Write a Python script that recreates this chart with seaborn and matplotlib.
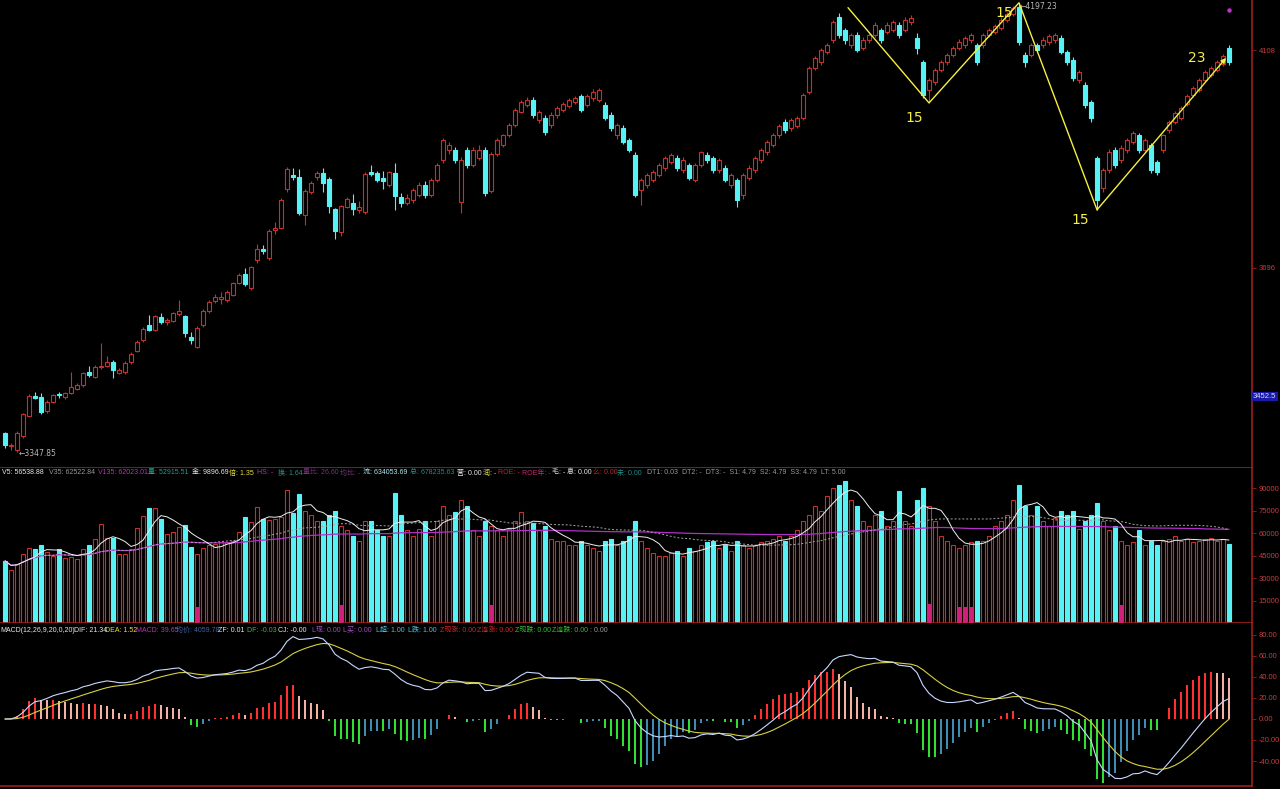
import numpy as np
import pandas as pd
import matplotlib
matplotlib.use("Agg")
import matplotlib.pyplot as plt
import seaborn as sns

# daily candles (index, price)
OPEN = [
    3384, 3360, 3352, 3378, 3416, 3454, 3452, 3425, 3443, 3458,
    3452, 3460, 3468, 3474, 3500, 3490, 3509, 3510, 3518, 3498,
    3499, 3518, 3540, 3560, 3588, 3579, 3604, 3593, 3596, 3609,
    3605, 3566, 3547, 3588, 3614, 3633, 3638, 3636, 3645, 3668,
    3685, 3658, 3712, 3732, 3715, 3768, 3772, 3846, 3872, 3868,
    3796, 3840, 3868, 3876, 3865, 3808, 3764, 3812, 3818, 3805,
    3802, 3878, 3876, 3866, 3853, 3876, 3830, 3818, 3824, 3834,
    3853, 3834, 3862, 3900, 3919, 3919, 3820, 3919, 3890, 3904,
    3919, 3842, 3912, 3928, 3947, 3966, 3991, 4004, 4014, 3976,
    3980, 3966, 3985, 3995, 4002, 4010, 4021, 4004, 4017, 4014,
    4004, 3985, 3947, 3961, 3938, 3910, 3843, 3853, 3862, 3872,
    3885, 3896, 3904, 3881, 3890, 3862, 3890, 3910, 3904, 3881,
    3885, 3853, 3862, 3834, 3866, 3881, 3900, 3915, 3928, 3947,
    3972, 3960, 3964, 3979, 4029, 4074, 4085, 4104, 4127, 4170,
    4146, 4117, 4136, 4112, 4127, 4136, 4146, 4142, 4146, 4155,
    4146, 4161, 4131, 4085, 4032, 4047, 4070, 4085, 4098, 4112,
    4117, 4127, 4117, 4117, 4136, 4142, 4150, 4165, 4176, 4189,
    4098, 4098, 4117, 4117, 4123, 4127, 4131, 4104, 4089, 4051,
    4042, 4010, 3904, 3847, 3881, 3919, 3900, 3919, 3934, 3947,
    3919, 3928, 3896, 3919, 3957, 3972, 3979, 4006, 4023, 4032,
    4051, 4061, 4070, 4081, 4112,
]
CLOSE = [
    3361, 3362, 3385, 3420, 3454, 3450, 3424, 3443, 3456, 3456,
    3460, 3471, 3474, 3498, 3494, 3509, 3511, 3518, 3503, 3503,
    3517, 3534, 3557, 3581, 3579, 3605, 3593, 3598, 3610, 3615,
    3574, 3560, 3583, 3615, 3632, 3642, 3641, 3650, 3667, 3683,
    3666, 3698, 3731, 3728, 3766, 3772, 3825, 3883, 3868, 3800,
    3842, 3857, 3876, 3857, 3813, 3766, 3813, 3827, 3808, 3812,
    3874, 3874, 3862, 3861, 3877, 3832, 3819, 3829, 3843, 3853,
    3834, 3862, 3890, 3938, 3928, 3900, 3900, 3890, 3919, 3919,
    3838, 3912, 3938, 3947, 3966, 3995, 4010, 4014, 3985, 3991,
    3953, 3985, 3998, 4006, 4014, 4017, 3995, 4021, 4029, 4032,
    3979, 3961, 3966, 3934, 3919, 3834, 3862, 3872, 3877, 3890,
    3904, 3910, 3885, 3900, 3866, 3890, 3915, 3900, 3881, 3900,
    3862, 3872, 3824, 3872, 3885, 3904, 3919, 3934, 3947, 3964,
    3957, 3976, 3979, 4023, 4074, 4093, 4108, 4117, 4161, 4136,
    4127, 4136, 4108, 4127, 4136, 4155, 4127, 4155, 4161, 4136,
    4165, 4168, 4112, 4023, 4051, 4070, 4085, 4098, 4112, 4123,
    4131, 4136, 4085, 4136, 4146, 4153, 4165, 4176, 4187, 4123,
    4085, 4117, 4108, 4127, 4134, 4136, 4104, 4085, 4055, 4066,
    4004, 3979, 3824, 3881, 3915, 3890, 3923, 3938, 3951, 3919,
    3938, 3881, 3877, 3947, 3972, 3989, 3998, 4021, 4036, 4051,
    4066, 4074, 4085, 4097, 4085,
]
HIGH = [
    3386, 3366, 3388, 3422, 3458, 3462, 3460, 3447, 3458, 3462,
    3462, 3500, 3478, 3500, 3510, 3512, 3554, 3530, 3522, 3507,
    3520, 3537, 3560, 3584, 3608, 3607, 3610, 3602, 3613, 3636,
    3608, 3575, 3586, 3618, 3636, 3646, 3650, 3654, 3670, 3686,
    3696, 3700, 3741, 3740, 3770, 3782, 3828, 3886, 3885, 3883,
    3845, 3860, 3880, 3885, 3868, 3810, 3816, 3830, 3835, 3822,
    3877, 3890, 3880, 3880, 3880, 3894, 3838, 3835, 3848, 3858,
    3860, 3866, 3894, 3942, 3935, 3925, 3905, 3925, 3925, 3928,
    3925, 3915, 3942, 3950, 3970, 3998, 4014, 4020, 4020, 3995,
    3985, 3990, 4002, 4010, 4018, 4022, 4025, 4025, 4034, 4036,
    4010, 3990, 3970, 3966, 3942, 3915, 3866, 3876, 3882, 3894,
    3908, 3914, 3910, 3905, 3895, 3894, 3918, 3916, 3908, 3904,
    3890, 3876, 3866, 3876, 3890, 3908, 3922, 3938, 3952, 3968,
    3978, 3980, 3984, 4026, 4078, 4097, 4112, 4122, 4165, 4178,
    4150, 4140, 4142, 4132, 4140, 4160, 4150, 4160, 4165, 4160,
    4170, 4174, 4140, 4090, 4055, 4074, 4090, 4102, 4116, 4128,
    4135, 4140, 4122, 4140, 4150, 4158, 4170, 4180, 4192, 4197.23,
    4105, 4122, 4122, 4132, 4138, 4140, 4136, 4108, 4094, 4070,
    4047, 4014, 3908, 3885, 3920, 3924, 3928, 3942, 3955, 3952,
    3942, 3932, 3900, 3950, 3976, 3993, 4002, 4025, 4040, 4055,
    4070, 4078, 4089, 4101, 4118,
]
LOW = [
    3355, 3352, 3347.85, 3375, 3414, 3448, 3420, 3422, 3440, 3450,
    3448, 3458, 3466, 3472, 3490, 3488, 3506, 3508, 3488, 3495,
    3496, 3515, 3538, 3556, 3576, 3576, 3590, 3588, 3593, 3606,
    3565, 3553, 3545, 3585, 3610, 3630, 3628, 3632, 3643, 3665,
    3662, 3655, 3705, 3722, 3712, 3760, 3770, 3840, 3862, 3797,
    3778, 3835, 3862, 3840, 3800, 3750, 3757, 3810, 3796, 3800,
    3798, 3870, 3858, 3845, 3850, 3806, 3812, 3815, 3818, 3830,
    3828, 3830, 3858, 3895, 3912, 3895, 3800, 3885, 3886, 3900,
    3832, 3838, 3908, 3924, 3944, 3962, 3988, 4000, 3980, 3970,
    3948, 3960, 3980, 3990, 3998, 4005, 3990, 4000, 4012, 4010,
    3975, 3955, 3940, 3930, 3915, 3830, 3815, 3848, 3858, 3868,
    3880, 3892, 3880, 3876, 3862, 3858, 3886, 3895, 3876, 3876,
    3858, 3848, 3812, 3826, 3862, 3876, 3895, 3910, 3924, 3942,
    3952, 3955, 3960, 3975, 4025, 4070, 4080, 4100, 4122, 4130,
    4120, 4112, 4104, 4108, 4122, 4132, 4122, 4138, 4142, 4130,
    4142, 4155, 4100, 4018, 4008, 4042, 4066, 4080, 4094, 4108,
    4112, 4122, 4080, 4112, 4132, 4138, 4146, 4160, 4172, 4118,
    4075, 4094, 4104, 4112, 4118, 4122, 4100, 4080, 4050, 4045,
    3998, 3972, 3806, 3840, 3876, 3885, 3895, 3914, 3930, 3914,
    3914, 3876, 3872, 3914, 3952, 3968, 3975, 4002, 4019, 4028,
    4047, 4057, 4066, 4077, 4080,
]
VOLUME = [
    41500, 35500, 39500, 46000, 50000, 49500, 52000, 47500, 45000, 49500,
    43500, 44000, 43000, 49500, 52000, 56000, 66000, 57000, 57000, 46000,
    46000, 49500, 63500, 71500, 77000, 77000, 69500, 59500, 61000, 64000,
    65500, 51000, 46000, 50000, 52000, 53000, 54000, 54000, 55000, 61000,
    71000, 67500, 77500, 69500, 69000, 69500, 70500, 88500, 73500, 86000,
    75000, 72000, 68000, 68000, 72000, 75000, 65000, 62000, 58000, 55000,
    68000, 68000, 62000, 58000, 58000, 87000, 72000, 62000, 58000, 63000,
    68000, 58000, 68000, 78000, 72000, 74000, 82000, 78000, 62000, 58000,
    68000, 65000, 62000, 58000, 63000, 68000, 74000, 68000, 67000, 62000,
    65000, 56000, 55000, 55000, 52000, 52000, 55000, 52000, 50000, 48000,
    55000, 56000, 52000, 55000, 58000, 68000, 55000, 50000, 47000, 45000,
    45000, 47000, 48000, 45000, 50000, 48000, 52000, 54000, 55000, 50000,
    52000, 48000, 55000, 52000, 50000, 52000, 54000, 55000, 56000, 58000,
    55000, 58000, 62000, 68000, 72000, 78000, 75000, 85000, 90000, 92000,
    95000, 82000, 78000, 68000, 65000, 72000, 75000, 65000, 68000, 88000,
    68000, 65000, 82000, 90000, 78000, 68000, 58000, 55000, 52000, 50000,
    52000, 54000, 55000, 55000, 58000, 65000, 68000, 72000, 82000, 92000,
    78000, 72000, 78000, 68000, 65000, 70000, 75000, 72000, 75000, 63000,
    68000, 72000, 80000, 68000, 62000, 65000, 55000, 52000, 54000, 62000,
    52000, 55000, 52000, 55000, 56000, 58000, 55000, 56000, 54000, 55000,
    56000, 57000, 55000, 56000, 53000,
]

# short magenta signal bars in the volume pane
FLAG_BARS = [32, 56, 81, 154, 159, 160, 161, 186]
FLAG_VOL = [11000, 12000, 12000, 13000, 11000, 11000, 11000, 12000]

# hand drawn wave line and its bar counts
ZIGZAG_BAR = [140.5, 154, 169, 182, 203.5]
ZIGZAG_PRICE = [4188, 4008, 4197.23, 3806, 4093]
ZIGZAG_TEXT = ["15", "15", "15", "23"]

PRICE_TICKS = [3696, 4108]
CURSOR_PRICE = 3452.5
SIGNAL_PRICE = 4184
VOL_TICKS = [15000, 30000, 45000, 60000, 75000, 90000]
MACD_TICKS = [-40, -20, 0, 20, 40, 60, 80]

VOL_HEADER = [
    (2, "V5: 56538.88", "#e8e8e8"), (49, "V35: 62522.84", "#9a9a9a"),
    (98, "V135: 62023.01", "#c030c0"), (148, "量: 52915.51", "#2a9a8a"),
    (192, "金: 9896.69", "#e8e8e8"), (229, "倍: 1.35", "#e8e040"), (257, "HS: -", "#c030c0"),
    (278, "换: 1.64", "#2a8a8a"), (303, "量比: 26.60", "#7a307a"), (340, "均比: -", "#7a307a"),
    (363, "流: 634053.69", "#b0e8f0"), (410, "总: 678235.63", "#2a8a8a"),
    (457, "营: 0.00", "#e8e8e8"), (483, "润: -", "#e8e040"), (498, "ROE: -", "#c02828"),
    (522, "ROE年: -", "#c02870"), (552, "毛: -", "#e8e8e8"), (567, "息: 0.00", "#e8e8e8"),
    (593, "么: 0.00", "#c02828"), (617, "未: 0.00", "#2a8a8a"),
    (647, "DT1: 0.03  DT2: -  DT3: -  S1: 4.79  S2: 4.79  S3: 4.79  LT: 5.00", "#9a9a9a"),
]
MACD_HEADER = [
    (0, "MACD(12,26,9,20,0,20)", "#e8e8e8"), (74, "DIF: 21.34", "#e8e8e8"),
    (105, "DEA: 1.52", "#e8e040"), (136, "MACD: 39.65", "#c030c0"),
    (176, "均价: 4059.78", "#4060a0"), (218, "ZF: 0.01", "#e8e8e8"),
    (247, "DF: -0.03", "#30c030"), (278, "CJ: -0.00", "#e8e8e8"),
    (312, "L现: 0.00", "#a050c0"), (343, "L买: 0.00", "#a050c0"),
    (376, "L超: 1.00", "#40c8e8"), (408, "L跌: 1.00", "#40c8e8"),
    (440, "Z现涨: 0.00", "#d02828"), (477, "Z连涨: 0.00", "#d02828"),
    (515, "Z现跌: 0.00", "#30c030"), (552, "Z连跌: 0.00", "#30c030"),
    (590, ": 0.00", "#9a9a9a"),
]

W, H = 1280, 789
RED = "#c8302c"
CYAN = "#56f2f6"
AXIS_RED = "#a01c1c"
LABEL_RED = "#c83c3c"
YELLOW = "#f6f040"
FONTS = ["Liberation Sans Narrow", "Liberation Sans", "Noto Sans CJK SC", "DejaVu Sans"]


def style_axis(ax, ticks, labels):
    ax.set_facecolor("black")
    ax.grid(False)
    for side in ("left", "top"):
        ax.spines[side].set_visible(False)
    for side in ("right", "bottom"):
        ax.spines[side].set_color(AXIS_RED)
        ax.spines[side].set_linewidth(1.2)
    ax.set_xlim(-0.83, 207.83)
    ax.set_xticks([])
    ax.yaxis.tick_right()
    ax.set_yticks(ticks)
    ax.set_yticklabels(labels)
    ax.tick_params(axis="y", length=3, width=0.6, color=AXIS_RED, pad=2,
                   labelsize=5.5, labelcolor=LABEL_RED)


def main():
    df = pd.DataFrame({"open": OPEN, "close": CLOSE, "high": HIGH, "low": LOW, "vol": VOLUME})
    df["idx"] = np.arange(len(df))
    up = df["close"] >= df["open"]

    # indicators
    df["v5"] = df["vol"].rolling(5, min_periods=1).mean()
    df["v35"] = df["vol"].rolling(35, min_periods=1).mean()
    df["v135"] = df["vol"].rolling(135, min_periods=1).mean()
    ema12 = df["close"].ewm(span=12, adjust=False).mean()
    ema26 = df["close"].ewm(span=26, adjust=False).mean()
    df["dif"] = ema12 - ema26
    df["dea"] = df["dif"].ewm(span=9, adjust=False).mean()
    df["hist"] = 2 * (df["dif"] - df["dea"])

    sns.set_theme(style="dark", rc={"axes.facecolor": "black", "figure.facecolor": "black"})
    plt.rcParams["font.family"] = FONTS
    plt.rcParams["axes.unicode_minus"] = False

    fig = plt.figure(figsize=(W / 100, H / 100), dpi=100)
    fig.patch.set_facecolor("black")
    right = 1252 / W
    ax_p = fig.add_axes([0, 1 - 468 / H, right, 468 / H])
    ax_v = fig.add_axes([0, 1 - 623 / H, right, 155 / H])
    ax_m = fig.add_axes([0, 1 - 786 / H, right, 163 / H])

    # ---- price pane ----
    style_axis(ax_p, PRICE_TICKS, [str(t) for t in PRICE_TICKS])
    ax_p.set_ylim(3318, 4202.5)
    for is_up, color, face in ((True, RED, "black"), (False, CYAN, CYAN)):
        part = df[up == is_up]
        ax_p.vlines(part["idx"], part["low"], part["high"], color=color, lw=0.8, zorder=2)
        ax_p.bar(part["idx"], part["close"] - part["open"], bottom=part["open"], width=0.7,
                 facecolor=face, edgecolor=color, linewidth=0.8, zorder=3)

    ax_p.plot(ZIGZAG_BAR[:-1], ZIGZAG_PRICE[:-1], color=YELLOW, lw=1, zorder=4)
    ax_p.annotate("", xy=(ZIGZAG_BAR[-1], ZIGZAG_PRICE[-1]), xytext=(ZIGZAG_BAR[-2], ZIGZAG_PRICE[-2]),
                  arrowprops=dict(arrowstyle="-|>", color=YELLOW, lw=1, mutation_scale=7,
                                  shrinkA=0, shrinkB=0), zorder=4)
    offsets = [(-15, -15), (-15, -10), (-17, -10), (-29, 0)]
    for k, (txt, off) in enumerate(zip(ZIGZAG_TEXT, offsets), start=1):
        ax_p.annotate(txt, (ZIGZAG_BAR[k], ZIGZAG_PRICE[k]), xytext=off, textcoords="offset pixels",
                      color=YELLOW, fontsize=10, ha="center", va="center",
                      family=["DejaVu Sans"])

    hi = int(df["high"].idxmax())
    lo = int(df["low"].idxmin())
    ax_p.annotate(f"←{df['high'][hi]:.2f}", (hi, df["high"][hi]), xytext=(1, -4),
                  textcoords="offset pixels", color="#b8b8b8", fontsize=5.5, va="center",
                  family=["DejaVu Sans"])
    ax_p.annotate(f"←{df['low'][lo]:.2f}", (lo, df["low"][lo]), xytext=(2, -1),
                  textcoords="offset pixels", color="#b8b8b8", fontsize=5.5, va="center",
                  family=["DejaVu Sans"])
    ax_p.scatter([len(df) - 1], [SIGNAL_PRICE], s=5, color="#c030d0", zorder=5)
    ax_p.text(1.0008, CURSOR_PRICE, f"{CURSOR_PRICE}", transform=ax_p.get_yaxis_transform(),
              color="#d8d8ff", fontsize=5.5, va="center", ha="left", clip_on=False,
              bbox=dict(boxstyle="square,pad=0.15", facecolor="#1a1aa8", edgecolor="none"))

    # ---- volume pane ----
    style_axis(ax_v, VOL_TICKS, [str(t) for t in VOL_TICKS])
    ax_v.set_ylim(0, 103500)
    for is_up, color, face in ((True, RED, "black"), (False, CYAN, CYAN)):
        part = df[up == is_up]
        ax_v.bar(part["idx"], part["vol"], width=0.72, facecolor=face, edgecolor=color,
                 linewidth=0.8, zorder=2)
    ax_v.bar(FLAG_BARS, FLAG_VOL, width=0.72, color="#d0207a", edgecolor="none", linewidth=0, zorder=3)
    sns.lineplot(data=df, x="idx", y="v135", ax=ax_v, color="#b030c8", lw=0.9, legend=False, zorder=4)
    sns.lineplot(data=df, x="idx", y="v35", ax=ax_v, color="#a8a8a8", lw=0.7,
                 linestyle=(0, (2, 2)), legend=False, zorder=4)
    sns.lineplot(data=df, x="idx", y="v5", ax=ax_v, color="#f0f0f0", lw=0.7, legend=False, zorder=5)
    ax_v.set_xlabel("")
    ax_v.set_ylabel("")
    ax_v.set_xlim(-0.83, 207.83)

    # ---- MACD pane ----
    style_axis(ax_m, MACD_TICKS, [f"{t:.2f}" for t in MACD_TICKS])
    ax_m.set_ylim(-63.8, 91.4)
    prev = df["hist"].shift(1).fillna(0)
    colors = np.where(df["hist"] >= 0,
                      np.where(df["hist"] >= prev, "#ff3030", "#f4b0a4"),
                      np.where(df["hist"] <= prev, "#30e030", "#3c8cb4"))
    ax_m.bar(df["idx"], df["hist"], width=0.42, color=list(colors), edgecolor="none",
             linewidth=0, zorder=2)
    sns.lineplot(data=df, x="idx", y="dea", ax=ax_m, color="#d8d040", lw=0.8, legend=False, zorder=3)
    sns.lineplot(data=df, x="idx", y="dif", ax=ax_m, color="#c8d8ff", lw=0.8, legend=False, zorder=4)
    ax_m.set_xlabel("")
    ax_m.set_ylabel("")
    ax_m.set_xlim(-0.83, 207.83)

    # ---- header rows ----
    for x, s, c in VOL_HEADER:
        fig.text(x / W, 1 - 473 / H, s, color=c, fontsize=5, va="center", ha="left")
    for x, s, c in MACD_HEADER:
        fig.text(x / W, 1 - 630 / H, s, color=c, fontsize=5, va="center", ha="left")

    fig.savefig("out.png", dpi=100, facecolor="black")


if __name__ == "__main__":
    main()
